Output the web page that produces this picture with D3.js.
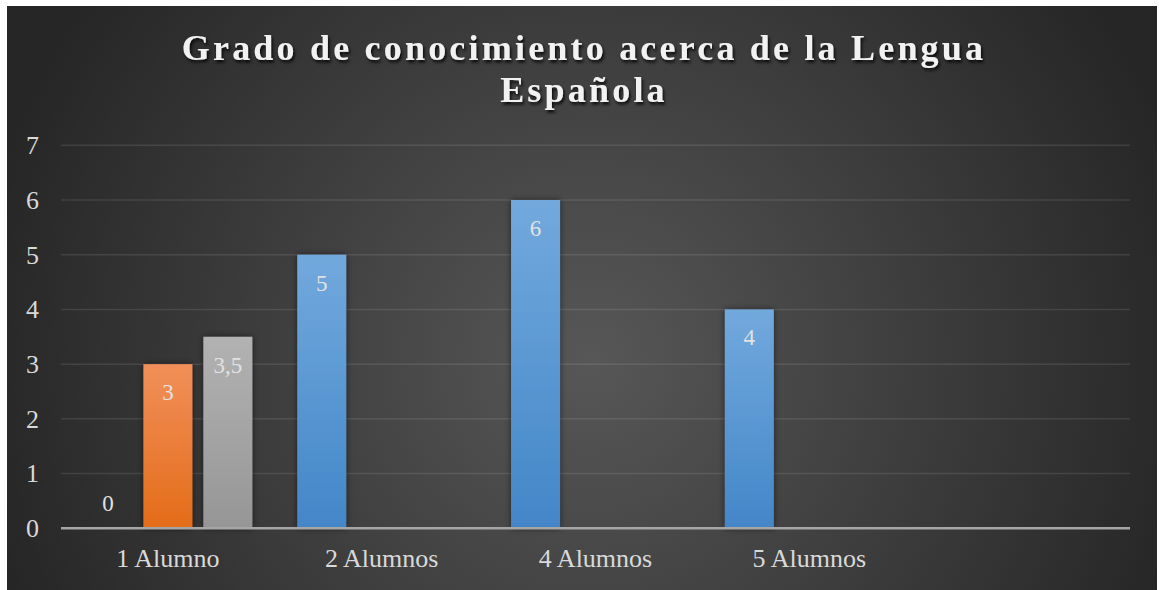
<!DOCTYPE html>
<html>
<head>
<meta charset="utf-8">
<script src="https://cdn.jsdelivr.net/npm/d3@7"></script>
<style>
  body { margin: 0; background: #ffffff; }
  svg { display: block; }
</style>
</head>
<body>
<div id="chart"></div>
<script>
// chart data
var categories = ["1 Alumno", "2 Alumnos", "4 Alumnos", "5 Alumnos", ""];
var seriesNames = ["Serie1", "Serie2", "Serie3"];
var serie1 = [0, 5, 6, 4, null];
var serie2 = [3, null, null, null, null];
var serie3 = [3.5, null, null, null, null];
var yTicks = [0, 1, 2, 3, 4, 5, 6, 7];
var titleLines = ["Grado de conocimiento acerca de la Lengua", "Española"];

var width = 1159, height = 590;
var margin = { left: 61, right: 29, top: 145, bottom: 62 };
var serif = "'Liberation Serif', 'Times New Roman', serif";

var svg = d3.select("#chart").append("svg")
    .attr("width", width)
    .attr("height", height);

var defs = svg.append("defs");

var bg = defs.append("radialGradient")
    .attr("id", "bgGrad")
    .attr("gradientUnits", "userSpaceOnUse")
    .attr("cx", 590).attr("cy", 360).attr("r", 620);
bg.append("stop").attr("offset", 0).attr("stop-color", "#575757");
bg.append("stop").attr("offset", 1).attr("stop-color", "#262626");

var barColors = [
    ["#72a9dd", "#4386c8"],
    ["#f18f5a", "#e46c19"],
    ["#b2b2b2", "#969696"]
];
barColors.forEach(function (c, i) {
    var g = defs.append("linearGradient")
        .attr("id", "barGrad" + i)
        .attr("x1", 0).attr("y1", 0).attr("x2", 0).attr("y2", 1);
    g.append("stop").attr("offset", 0).attr("stop-color", c[0]);
    g.append("stop").attr("offset", 1).attr("stop-color", c[1]);
});

var shadow = defs.append("filter").attr("id", "barShadow")
    .attr("x", "-30%").attr("y", "-10%").attr("width", "160%").attr("height", "120%");
shadow.append("feDropShadow")
    .attr("dx", 0).attr("dy", 0).attr("stdDeviation", 3)
    .attr("flood-color", "#000").attr("flood-opacity", 0.55);

var txtShadow = defs.append("filter").attr("id", "txtShadow")
    .attr("x", "-10%").attr("y", "-30%").attr("width", "120%").attr("height", "160%");
txtShadow.append("feDropShadow")
    .attr("dx", 1.5).attr("dy", 2.5).attr("stdDeviation", 1.5)
    .attr("flood-color", "#000").attr("flood-opacity", 0.85);

// background
svg.append("rect")
    .attr("x", 7).attr("y", 6)
    .attr("width", 1150).attr("height", 584)
    .attr("fill", "url(#bgGrad)");

// title
var title = svg.append("text")
    .attr("text-anchor", "middle")
    .style("font-family", serif)
    .attr("font-weight", "bold")
    .attr("font-size", "36px")
    .attr("letter-spacing", "3.2px")
    .attr("fill", "#f2f2f2")
    .attr("filter", "url(#txtShadow)");
titleLines.forEach(function (t, i) {
    title.append("tspan")
        .attr("x", 584)
        .attr("y", 60 + i * 42)
        .text(t);
});

// scales
var x0 = d3.scaleBand()
    .domain(d3.range(categories.length))
    .range([margin.left, width - margin.right])
    .paddingInner(0.21)
    .paddingOuter(0.105);

var x1 = d3.scaleBand()
    .domain(d3.range(seriesNames.length))
    .range([0, x0.bandwidth()])
    .paddingInner(0.183);

var y = d3.scaleLinear()
    .domain([0, 7])
    .range([height - margin.bottom + 0.3, margin.top + 0.3]);

// gridlines
svg.append("g")
    .selectAll("line")
    .data(yTicks.slice(1))
    .enter().append("line")
    .attr("x1", margin.left)
    .attr("x2", width - margin.right)
    .attr("y1", d => y(d))
    .attr("y2", d => y(d))
    .attr("stroke", "#ffffff")
    .attr("stroke-opacity", 0.1)
    .attr("stroke-width", 1.5);

// y axis labels
var yAxis = svg.append("g")
    .attr("transform", "translate(" + (margin.left - 22) + ",0)")
    .call(d3.axisLeft(y).tickValues(yTicks).tickFormat(d3.format("d")).tickSize(0).tickPadding(0));
yAxis.select(".domain").remove();
yAxis.selectAll("text")
    .style("font-family", serif)
    .attr("font-size", "26px")
    .attr("fill", "#d9d9d9");

// bars
var seriesData = [serie1, serie2, serie3];
var bars = [];
seriesData.forEach(function (vals, s) {
    vals.forEach(function (v, c) {
        if (v !== null) bars.push({ s: s, c: c, v: v });
    });
});

svg.append("g")
    .selectAll("rect")
    .data(bars.filter(d => d.v > 0))
    .enter().append("rect")
    .attr("x", d => x0(d.c) + x1(d.s))
    .attr("y", d => y(d.v))
    .attr("width", x1.bandwidth())
    .attr("height", d => y(0) - y(d.v))
    .attr("fill", d => "url(#barGrad" + d.s + ")")
    .attr("filter", "url(#barShadow)");

// x axis line
svg.append("line")
    .attr("x1", margin.left)
    .attr("x2", width - margin.right)
    .attr("y1", y(0))
    .attr("y2", y(0))
    .attr("stroke", "#a6a6a6")
    .attr("stroke-width", 2.5);

// data labels
svg.append("g")
    .selectAll("text")
    .data(bars)
    .enter().append("text")
    .attr("x", d => x0(d.c) + x1(d.s) + x1.bandwidth() / 2)
    .attr("y", d => Math.min(y(d.v) + 28, y(0) - 25))
    .attr("dy", "0.35em")
    .attr("text-anchor", "middle")
    .style("font-family", serif)
    .attr("font-size", "23px")
    .attr("fill", "#e2e2e2")
    .text(d => String(d.v).replace(".", ","));

// category labels
var xAxis = svg.append("g")
    .attr("transform", "translate(0," + (y(0) + 20) + ")")
    .call(d3.axisBottom(x0).tickSize(0).tickPadding(0).tickFormat(i => categories[i]));
xAxis.select(".domain").remove();
xAxis.selectAll("text")
    .style("font-family", serif)
    .attr("font-size", "26px")
    .attr("fill", "#d9d9d9");
</script>
</body>
</html>
